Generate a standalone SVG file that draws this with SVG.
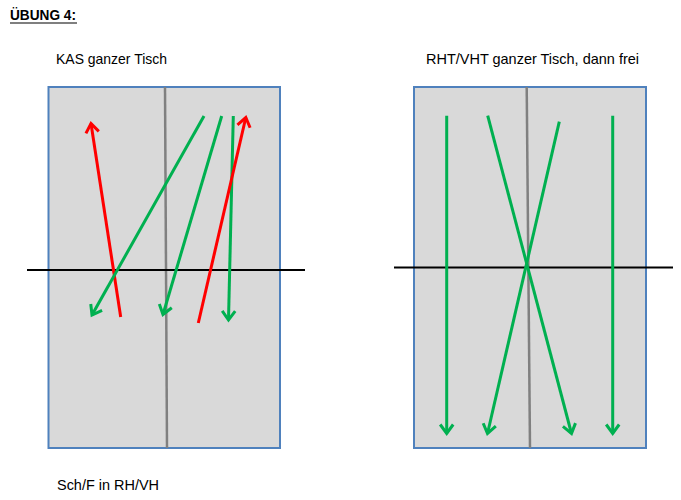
<svg xmlns="http://www.w3.org/2000/svg" width="681" height="500" viewBox="0 0 681 500">
<style>
.table{fill:#d9d9d9;stroke:#4f81bd;stroke-width:2}
.mid{stroke:#808080;stroke-width:2.5;fill:none}
.net{stroke:#000;stroke-width:2;fill:none}
.g{stroke:#00b050;stroke-width:3;fill:none;marker-end:url(#hg)}
.r{stroke:#ff0000;stroke-width:3;fill:none;marker-end:url(#hr)}
text{font-family:"Liberation Sans",Arial,sans-serif;fill:#000}
</style>
<defs>
<marker id="hg" markerUnits="userSpaceOnUse" markerWidth="24" markerHeight="24" viewBox="-12 -12 24 24" refX="0" refY="0" orient="auto">
<path d="M-9,-6.5 L0,0 L-9,6.5" fill="none" stroke="#00b050" stroke-width="3"/>
</marker>
<marker id="hr" markerUnits="userSpaceOnUse" markerWidth="24" markerHeight="24" viewBox="-12 -12 24 24" refX="0" refY="0" orient="auto">
<path d="M-9,-6.5 L0,0 L-9,6.5" fill="none" stroke="#ff0000" stroke-width="3"/>
</marker>
</defs>
<rect width="681" height="500" fill="#fff"/>
<g id="title">
<text x="10" y="20" font-size="14.5" font-weight="bold" textLength="66" lengthAdjust="spacingAndGlyphs">ÜBUNG 4:</text>
<line x1="10" y1="23" x2="77" y2="23" stroke="#000" stroke-width="1.2"/>
</g>
<g id="label-kas"><text x="56" y="64" font-size="14.5" textLength="111" lengthAdjust="spacingAndGlyphs">KAS ganzer Tisch</text></g>
<g id="label-rht"><text x="426" y="64" font-size="14.5" textLength="213" lengthAdjust="spacingAndGlyphs">RHT/VHT ganzer Tisch, dann frei</text></g>
<g id="label-sch"><text x="57" y="490" font-size="14.5" textLength="102" lengthAdjust="spacingAndGlyphs">Sch/F in RH/VH</text></g>
<g id="table-left">
<rect class="table" x="48.5" y="87" width="231.5" height="361"/>
<line class="mid" x1="165" y1="87" x2="167" y2="448"/>
<line class="net" x1="27" y1="270" x2="305" y2="270"/>
</g>
<g id="table-right">
<rect class="table" x="414" y="87" width="232" height="361"/>
<line class="mid" x1="526.7" y1="87" x2="530" y2="448"/>
<line class="net" x1="394" y1="267.5" x2="673" y2="267.5"/>
</g>
<g id="connectors">
<line class="r" x1="120.7" y1="317" x2="91" y2="123.5"/>
<line class="g" x1="204" y1="116" x2="92" y2="315"/>
<line class="g" x1="221.7" y1="116" x2="163" y2="314.5"/>
<line class="g" x1="233.3" y1="116" x2="228.5" y2="320"/>
<line class="r" x1="198.3" y1="323" x2="245.8" y2="117.5"/>
<line class="g" x1="446.7" y1="115.7" x2="446.7" y2="433.5"/>
<line class="g" x1="487.7" y1="115.7" x2="571.5" y2="433.5"/>
<line class="g" x1="559.3" y1="121.7" x2="487.5" y2="433.5"/>
<line class="g" x1="612.7" y1="115.7" x2="612.7" y2="433.5"/>
</g>
</svg>
